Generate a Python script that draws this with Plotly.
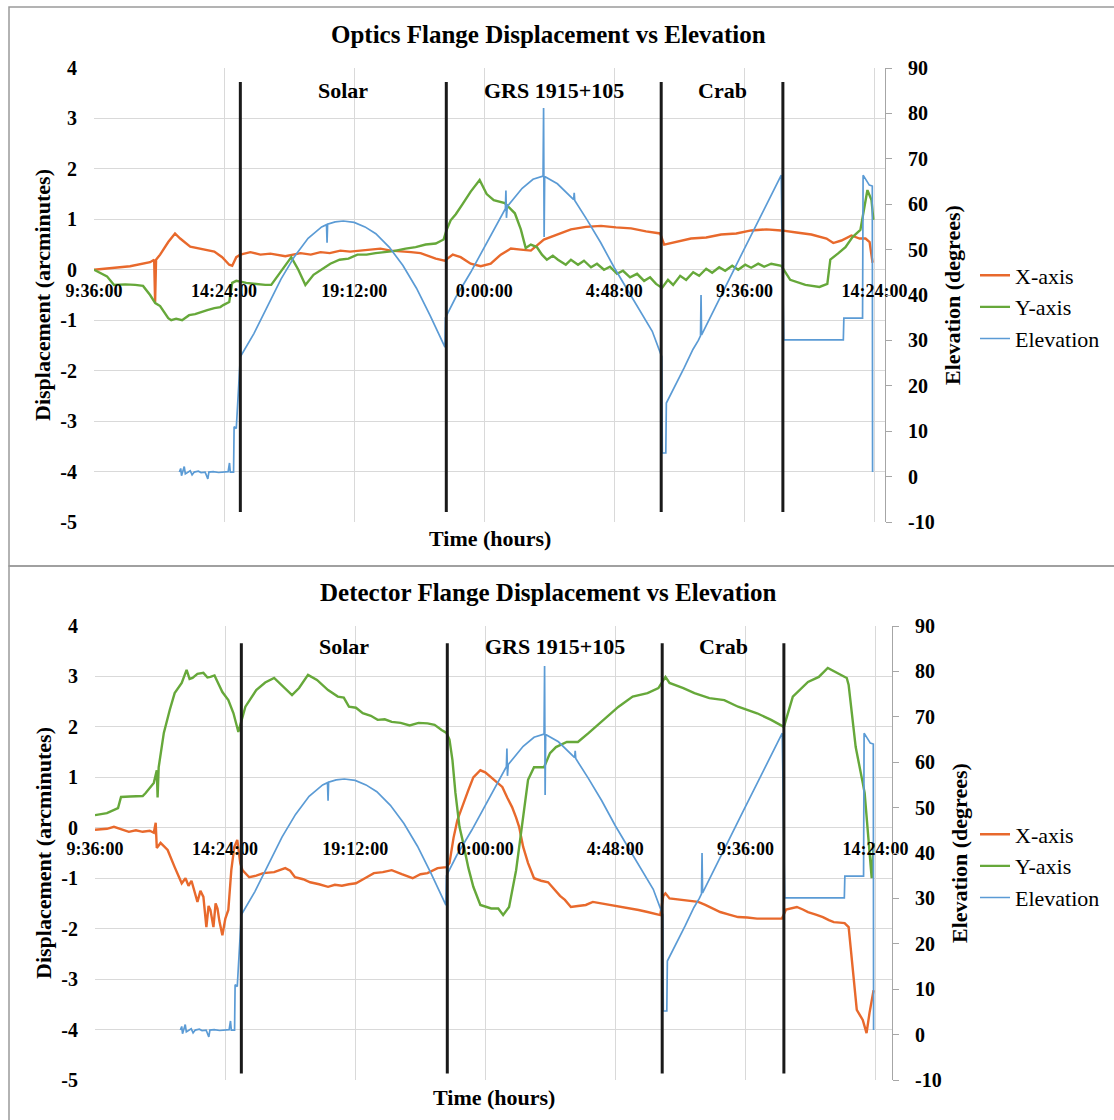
import plotly.graph_objects as go

# ---------------------------------------------------------------------------
# Data (time in hours elapsed since 9:36:00 on the first day)
# ---------------------------------------------------------------------------
TICK_HOURS = [0, 4.8, 9.6, 14.4, 19.2, 24.0, 28.8]
TICK_LABELS = ["9:36:00", "14:24:00", "19:12:00", "0:00:00", "4:48:00", "9:36:00", "14:24:00"]
DISP_TICKS = [-5, -4, -3, -2, -1, 0, 1, 2, 3, 4]
ELEV_TICKS = [-10, 0, 10, 20, 30, 40, 50, 60, 70, 80, 90]

# start of each observing block (vertical markers)
SEGMENT_STARTS = [5.4, 13.0, 20.93, 25.42]
SEGMENT_NAMES = ["Solar", "GRS 1915+105", "Crab"]

# telescope elevation (degrees)
ELEVATION = [
    (3.15, 1.0), (3.20, 1.8), (3.23, 0.2), (3.27, 1.1), (3.33, 2.2), (3.37, 0.6), (3.45, 1.0),
    (3.55, 1.3), (3.62, 0.4), (3.70, 1.0), (3.85, 1.2), (3.95, 0.9), (4.10, 1.0), (4.20, -0.5),
    (4.24, 1.0), (4.40, 1.1), (4.60, 0.9), (4.80, 1.0), (4.95, 1.1), (5.00, 3.0), (5.03, 1.0),
    (5.15, 1.0), (5.17, 11.0), (5.25, 10.6),
    (5.40, 26.4), (5.90, 31.5), (6.40, 37.5), (6.90, 43.5), (7.40, 48.5), (7.90, 52.5),
    (8.40, 55.0), (8.58, 55.5), (8.60, 51.5), (8.62, 55.6), (8.90, 56.1), (9.20, 56.3),
    (9.60, 56.0), (10.00, 55.0), (10.40, 53.5), (10.90, 50.5), (11.40, 46.5), (11.90, 41.5),
    (12.40, 35.5), (12.95, 28.5),
    (12.97, 35.0), (13.35, 39.5), (13.90, 45.0), (14.40, 50.5), (14.90, 56.0), (15.18, 59.0),
    (15.20, 63.0), (15.22, 57.0), (15.25, 59.5), (15.80, 63.5), (16.20, 65.5), (16.57, 66.2),
    (16.59, 81.2), (16.61, 52.8), (16.63, 66.1), (17.10, 64.5), (17.70, 61.0), (17.72, 62.5),
    (17.74, 60.8), (18.20, 56.5), (18.70, 51.5), (19.20, 46.0), (19.70, 41.0), (20.20, 36.0),
    (20.60, 32.0), (20.95, 26.4),
    (20.97, 5.2), (21.10, 5.2), (21.12, 16.2), (21.78, 24.0), (22.10, 28.0), (22.30, 30.0),
    (22.38, 31.0), (22.40, 40.0), (22.42, 31.2), (23.90, 49.0), (25.36, 66.4),
    (25.45, 30.1), (27.65, 30.1), (27.67, 34.9), (28.36, 34.9), (28.38, 66.4), (28.61, 64.2),
    (28.72, 64.0), (28.73, 1.0),
]

# optics flange displacement (arcminutes)
OPTICS_X = [
    (0.00, 0.00), (0.59, 0.03), (1.33, 0.07), (2.07, 0.15), (2.22, 0.20), (2.255, -0.64),
    (2.29, 0.20), (2.44, 0.30), (2.74, 0.55), (2.99, 0.72), (3.18, 0.62), (3.55, 0.46),
    (3.92, 0.42), (4.20, 0.40), (4.44, 0.36), (4.73, 0.25), (4.99, 0.10), (5.10, 0.08),
    (5.25, 0.25), (5.40, 0.30), (5.77, 0.35), (6.14, 0.30), (6.51, 0.32), (7.06, 0.27),
    (7.62, 0.33), (8.00, 0.30), (8.36, 0.35), (8.70, 0.33), (9.09, 0.38), (9.45, 0.36),
    (9.83, 0.38), (10.20, 0.40), (10.57, 0.42), (10.95, 0.38), (11.31, 0.37), (11.70, 0.35),
    (12.05, 0.33), (12.61, 0.22), (12.94, 0.18), (13.24, 0.30), (13.53, 0.25), (13.90, 0.12),
    (14.27, 0.07), (14.64, 0.12), (15.01, 0.30), (15.38, 0.42), (15.75, 0.40), (16.12, 0.38),
    (16.60, 0.60), (17.12, 0.70), (17.60, 0.80), (18.15, 0.85), (18.71, 0.87), (19.26, 0.84),
    (19.82, 0.82), (20.37, 0.76), (20.89, 0.72), (21.04, 0.50), (21.48, 0.55), (22.03, 0.62),
    (22.59, 0.64), (23.14, 0.70), (23.70, 0.72), (24.25, 0.78), (24.81, 0.80), (25.36, 0.78),
    (25.92, 0.74), (26.47, 0.70), (27.03, 0.62), (27.28, 0.53), (27.58, 0.58), (27.95, 0.68),
    (28.25, 0.62), (28.47, 0.62), (28.62, 0.55), (28.73, 0.14),
]

OPTICS_Y = [
    (0.00, 0.00), (0.48, -0.13), (0.74, -0.30), (1.15, -0.29), (1.52, -0.30), (1.81, -0.32),
    (2.07, -0.50), (2.26, -0.66), (2.44, -0.72), (2.74, -0.96), (2.85, -1.00), (3.03, -0.97),
    (3.25, -1.00), (3.51, -0.90), (3.73, -0.88), (3.92, -0.84), (4.18, -0.80), (4.44, -0.76),
    (4.66, -0.74), (4.77, -0.70), (4.99, -0.64), (5.10, -0.26), (5.25, -0.22), (5.62, -0.26),
    (5.95, -0.28), (6.32, -0.30), (6.54, -0.30), (6.95, 0.00), (7.28, 0.25), (7.54, 0.00),
    (7.80, -0.30), (8.10, -0.10), (8.39, 0.00), (8.72, 0.12), (9.06, 0.20), (9.39, 0.22),
    (9.72, 0.30), (10.06, 0.30), (10.39, 0.33), (10.72, 0.35), (11.05, 0.37), (11.50, 0.42),
    (11.87, 0.45), (12.24, 0.50), (12.61, 0.52), (12.90, 0.60), (13.01, 0.79), (13.16, 0.98),
    (13.35, 1.10), (13.60, 1.30), (13.90, 1.55), (14.23, 1.78), (14.49, 1.50), (14.75, 1.38),
    (15.16, 1.32), (15.53, 1.12), (15.75, 0.80), (15.93, 0.43), (16.12, 0.50), (16.34, 0.45),
    (16.53, 0.30), (16.71, 0.20), (16.93, 0.28), (17.12, 0.20), (17.41, 0.10), (17.60, 0.20),
    (17.86, 0.10), (18.08, 0.18), (18.34, 0.05), (18.56, 0.12), (18.82, 0.00), (19.04, 0.06),
    (19.30, -0.08), (19.52, -0.02), (19.78, -0.15), (20.04, -0.08), (20.30, -0.22),
    (20.52, -0.15), (20.74, -0.28), (20.96, -0.36), (21.18, -0.20), (21.37, -0.30),
    (21.63, -0.12), (21.85, -0.20), (22.11, -0.05), (22.33, -0.12), (22.59, 0.02),
    (22.81, -0.06), (23.07, 0.05), (23.29, -0.02), (23.55, 0.08), (23.77, 0.00), (24.03, 0.10),
    (24.25, 0.04), (24.51, 0.12), (24.73, 0.06), (24.99, 0.12), (25.36, 0.08), (25.69, -0.20),
    (26.25, -0.30), (26.77, -0.34), (27.06, -0.28), (27.17, 0.20), (27.47, 0.33), (27.73, 0.45),
    (27.99, 0.65), (28.28, 0.79), (28.54, 1.58), (28.69, 1.38), (28.76, 0.99),
]

# detector flange displacement (arcminutes)
DETECTOR_X = [
    (0.00, -0.04), (0.44, -0.02), (0.70, 0.02), (0.99, -0.03), (1.25, -0.08), (1.51, -0.05),
    (1.76, -0.08), (2.02, -0.06), (2.17, -0.10), (2.24, 0.10), (2.28, -0.40), (2.42, -0.30),
    (2.68, -0.44), (2.94, -0.78), (3.20, -1.10), (3.34, -1.00), (3.45, -1.15), (3.56, -1.05),
    (3.67, -1.24), (3.78, -1.47), (3.89, -1.25), (4.00, -1.37), (4.11, -1.97), (4.19, -1.55),
    (4.26, -1.63), (4.37, -1.97), (4.45, -1.50), (4.52, -1.60), (4.59, -1.85), (4.70, -2.13),
    (4.81, -1.80), (4.92, -1.63), (5.03, -0.84), (5.14, -0.38), (5.25, -0.24), (5.36, -0.70),
    (5.44, -0.84), (5.69, -0.98), (5.95, -0.95), (6.21, -0.90), (6.61, -0.88), (7.02, -0.80),
    (7.20, -0.85), (7.38, -0.98), (7.68, -1.02), (7.94, -1.08), (8.27, -1.12), (8.60, -1.17),
    (8.85, -1.13), (9.11, -1.15), (9.37, -1.12), (9.63, -1.10), (9.96, -1.00), (10.29, -0.90),
    (10.62, -0.88), (10.95, -0.84), (11.32, -0.92), (11.72, -1.00), (12.01, -0.92),
    (12.27, -0.90), (12.64, -0.80), (12.97, -0.78), (13.08, -0.70), (13.23, -0.20),
    (13.37, 0.15), (13.56, 0.41), (13.78, 0.75), (13.96, 1.00), (14.22, 1.14), (14.40, 1.10),
    (14.62, 1.00), (14.84, 0.90), (15.03, 0.81), (15.21, 0.60), (15.39, 0.41), (15.54, 0.20),
    (15.65, 0.02), (15.80, -0.38), (15.98, -0.70), (16.20, -1.00), (16.46, -1.05),
    (16.72, -1.08), (16.97, -1.24), (17.16, -1.35), (17.34, -1.43), (17.56, -1.57),
    (17.82, -1.55), (18.11, -1.53), (18.37, -1.47), (18.70, -1.50), (19.03, -1.53),
    (19.36, -1.57), (19.73, -1.60), (20.06, -1.63), (20.39, -1.67), (20.64, -1.70),
    (20.86, -1.73), (20.97, -1.35), (21.05, -1.30), (21.20, -1.40), (21.49, -1.42),
    (21.75, -1.43), (22.00, -1.45), (22.26, -1.47), (22.52, -1.53), (22.82, -1.60),
    (23.07, -1.67), (23.40, -1.72), (23.73, -1.77), (24.07, -1.78), (24.43, -1.80),
    (24.87, -1.80), (25.35, -1.80), (25.50, -1.62), (25.64, -1.60), (25.90, -1.57),
    (26.12, -1.62), (26.31, -1.67), (26.60, -1.72), (26.86, -1.77), (27.08, -1.83),
    (27.26, -1.87), (27.48, -1.88), (27.66, -1.89), (27.81, -1.97), (28.00, -3.02),
    (28.11, -3.61), (28.33, -3.81), (28.47, -4.07), (28.58, -3.67), (28.73, -3.22),
]

DETECTOR_Y = [
    (0.00, 0.25), (0.44, 0.29), (0.85, 0.39), (0.96, 0.61), (1.29, 0.62), (1.76, 0.63),
    (1.87, 0.69), (2.17, 0.89), (2.28, 1.14), (2.31, 0.60), (2.35, 1.20), (2.54, 1.88),
    (2.76, 2.34), (2.94, 2.67), (3.20, 2.87), (3.38, 3.13), (3.49, 2.95), (3.60, 2.97),
    (3.78, 3.05), (4.00, 3.07), (4.15, 2.98), (4.26, 2.99), (4.41, 3.02), (4.52, 2.89),
    (4.70, 2.69), (4.92, 2.53), (5.11, 2.27), (5.29, 1.90), (5.55, 2.40), (5.95, 2.73),
    (6.28, 2.88), (6.61, 2.97), (7.02, 2.77), (7.27, 2.63), (7.53, 2.77), (7.86, 3.03),
    (8.19, 2.93), (8.60, 2.73), (8.96, 2.60), (9.18, 2.58), (9.37, 2.40), (9.63, 2.38),
    (9.88, 2.27), (10.18, 2.22), (10.43, 2.14), (10.69, 2.15), (10.95, 2.10), (11.28, 2.08),
    (11.61, 2.03), (11.94, 2.08), (12.27, 2.07), (12.53, 2.04), (12.79, 1.94), (12.97, 1.88),
    (13.08, 1.75), (13.19, 1.34), (13.30, 0.69), (13.45, 0.02), (13.56, -0.24), (13.78, -0.80),
    (13.96, -1.17), (14.22, -1.53), (14.62, -1.60), (14.88, -1.60), (15.06, -1.73),
    (15.28, -1.57), (15.54, -0.84), (15.72, -0.10), (15.80, 0.15), (15.98, 0.95), (16.20, 1.20),
    (16.57, 1.20), (16.79, 1.48), (17.01, 1.60), (17.41, 1.70), (17.82, 1.70), (18.22, 1.88),
    (18.77, 2.14), (19.32, 2.40), (19.84, 2.60), (20.39, 2.67), (20.79, 2.77), (21.05, 2.99),
    (21.20, 2.87), (21.71, 2.77), (22.12, 2.67), (22.67, 2.57), (23.22, 2.53), (23.73, 2.40),
    (24.43, 2.27), (24.95, 2.14), (25.42, 2.00), (25.75, 2.60), (26.31, 2.89), (26.71, 2.99),
    (27.04, 3.17), (27.37, 3.07), (27.74, 2.97), (27.81, 2.83), (28.07, 1.60), (28.33, 0.89),
    (28.40, 0.69), (28.66, -1.00), (28.73, -0.30),
]

# ---------------------------------------------------------------------------
# Styling
# ---------------------------------------------------------------------------
W, H = 1114, 1120
SERIF = "Liberation Serif"
C_X = "#E8692C"
C_Y = "#66A83A"
C_EL = "#5B9BD5"
GRID = "#D9D9D9"
FRAME = "#A6A6A6"


def px_x(p):
    return p / W


def px_y(p):
    return 1 - p / H


def unzip(pairs):
    return [p[0] for p in pairs], [p[1] for p in pairs]


panels = [
    dict(title="Optics Flange Displacement vs Elevation", X=OPTICS_X, Y=OPTICS_Y,
         box=(94, 885, 68, 522), xa="x", ya="y", ya2="y2", leg="legend",
         title_y=34, time_y=538, leg_y=307, sep=(3.72, -4.80), lab_y=3.55),
    dict(title="Detector Flange Displacement vs Elevation", X=DETECTOR_X, Y=DETECTOR_Y,
         box=(95, 892, 626, 1080), xa="x2", ya="y3", ya2="y4", leg="legend2",
         title_y=592, time_y=1097, leg_y=866, sep=(3.66, -4.87), lab_y=3.60),
]

fig = go.Figure()
layout = dict(
    width=W, height=H, margin=dict(l=0, r=0, t=0, b=0),
    paper_bgcolor="white", plot_bgcolor="white",
    font=dict(family=SERIF, color="black"),
    showlegend=True, annotations=[], shapes=[],
)

tick_font = dict(family=SERIF, size=20, color="black", weight="bold")
title_font = dict(family=SERIF, size=22, color="black", weight="bold")

for i, p in enumerate(panels):
    l, r, t, b = p["box"]
    xname = "xaxis" if i == 0 else "xaxis2"
    yname = "yaxis" if i == 0 else "yaxis3"
    y2name = "yaxis2" if i == 0 else "yaxis4"
    ydom = [px_y(b), px_y(t)]
    zero_pos = ydom[0] + (0 - (-5)) / 9 * (ydom[1] - ydom[0])

    for name, pairs, color, width, yref in [
        ("X-axis", p["X"], C_X, 2.4, p["ya"]),
        ("Y-axis", p["Y"], C_Y, 2.4, p["ya"]),
        ("Elevation", ELEVATION, C_EL, 1.7, p["ya2"]),
    ]:
        xs, ys = unzip(pairs)
        fig.add_trace(go.Scatter(
            x=xs, y=ys, mode="lines", name=name, legend=p["leg"],
            line=dict(color=color, width=width), xaxis=p["xa"], yaxis=yref,
        ))

    layout[xname] = dict(
        domain=[px_x(l), px_x(r)], range=[0, (r - l) / 27.1],
        tickmode="array", tickvals=TICK_HOURS, ticktext=TICK_LABELS,
        showgrid=True, gridcolor=GRID, gridwidth=1, zeroline=False, showline=False,
        anchor="free", position=zero_pos, ticks="", ticklabelstandoff=8,
        tickfont=dict(family=SERIF, size=18, color="black", weight="bold"),
        automargin=False, fixedrange=True,
    )
    layout[yname] = dict(
        domain=ydom, range=[-5, 4], tickmode="array", tickvals=DISP_TICKS,
        ticktext=[str(v) for v in DISP_TICKS],
        anchor=p["xa"], showgrid=True, gridcolor=GRID, gridwidth=1, zeroline=False,
        showline=False, ticks="", ticklabelstandoff=16, tickfont=tick_font,
        title=dict(text="Displacement (arcminutes)", font=title_font, standoff=3),
        automargin=False,
    )
    layout[y2name] = dict(
        domain=ydom, range=[-10, 90], tickmode="array", tickvals=ELEV_TICKS,
        ticktext=[str(v) for v in ELEV_TICKS],
        anchor=p["xa"], overlaying=p["ya"], side="right", showgrid=False, zeroline=False,
        showline=True, linecolor=FRAME, linewidth=1, ticks="outside", ticklen=6,
        tickcolor=FRAME, ticklabelstandoff=12, tickfont=tick_font,
        title=dict(text="Elevation (degrees)", font=title_font, standoff=10),
        automargin=False,
    )

    # observing-block markers
    y_top, y_bot = p["sep"]
    for ts in SEGMENT_STARTS:
        layout["shapes"].append(dict(
            type="line", xref=p["xa"], yref=p["ya"], x0=ts, x1=ts, y0=y_bot, y1=y_top,
            line=dict(color="#1A1A1A", width=3),
        ))
    for k, label in enumerate(SEGMENT_NAMES):
        mid = (SEGMENT_STARTS[k] + SEGMENT_STARTS[k + 1]) / 2
        layout["annotations"].append(dict(
            text=label, xref=p["xa"], yref=p["ya"], x=mid, y=p["lab_y"],
            showarrow=False, font=dict(family=SERIF, size=22, color="black", weight="bold"),
        ))

    # chart title and time-axis title
    layout["annotations"].append(dict(
        text=p["title"], xref="paper", yref="paper", x=px_x(548), y=px_y(p["title_y"]),
        showarrow=False, xanchor="center", yanchor="middle",
        font=dict(family=SERIF, size=25, color="black", weight="bold"),
    ))
    layout["annotations"].append(dict(
        text="Time (hours)", xref="paper", yref="paper", x=px_x((l + r) / 2),
        y=px_y(p["time_y"]), showarrow=False, xanchor="center", yanchor="middle",
        font=title_font,
    ))

    layout[p["leg"]] = dict(
        x=px_x(975), y=px_y(p["leg_y"]), xanchor="left", yanchor="middle",
        bgcolor="rgba(0,0,0,0)", borderwidth=0, itemwidth=30,
        font=dict(family=SERIF, size=22, color="black"),
    )

# chart-area frames
layout["shapes"] += [
    dict(type="rect", xref="paper", yref="paper", x0=px_x(9), x1=1.02,
         y0=px_y(566), y1=px_y(7), line=dict(color="#9A9A9A", width=1.5)),
    dict(type="rect", xref="paper", yref="paper", x0=px_x(9), x1=1.02,
         y0=-0.02, y1=px_y(566), line=dict(color="#9A9A9A", width=1.5)),
]

fig.update_layout(**layout)
fig.write_html("out.html")
